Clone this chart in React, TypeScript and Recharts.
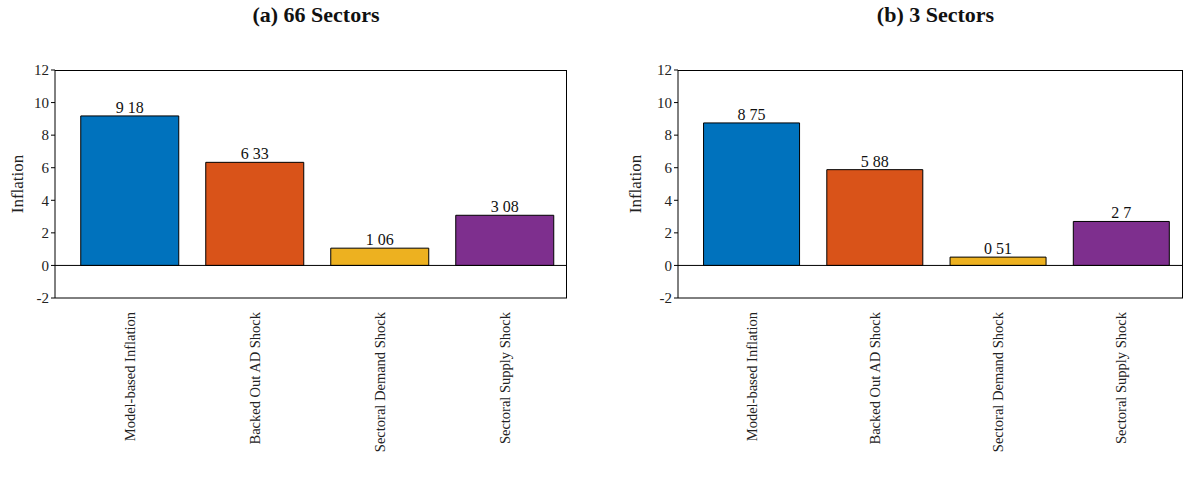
import { BarChart, Bar, XAxis, YAxis, Cell, LabelList, ReferenceLine } from 'recharts';

const categories = ['Model-based Inflation', 'Backed Out AD Shock', 'Sectoral Demand Shock', 'Sectoral Supply Shock'];
const values66 = [9.18, 6.33, 1.06, 3.08];
const values3 = [8.75, 5.88, 0.51, 2.7];
const yTicks = [-2, 0, 2, 4, 6, 8, 10, 12];
const colors = ['#0072BD', '#D95319', '#EDB120', '#7E2F8E'];

const font = '"Liberation Serif", "DejaVu Serif", serif';

const XTick = (props: any) => {
  const { x, y, payload } = props;
  return (
    <text x={x} y={y + 6} transform={`rotate(-90, ${x}, ${y + 6})`} textAnchor="end" dominantBaseline="central"
      fontSize={14.5} fontFamily={font} fill="#222">{payload.value}</text>
  );
};

function Panel({ title, values, left, width, marginLeft, labelX }: { title: string; values: number[]; left: number; width: number; marginLeft: number; labelX: number }) {
  const data = categories.map((name, i) => ({ name, value: values[i] }));
  const plotLeft = marginLeft + 25;
  return (
    <div style={{ position: 'absolute', left, top: 0, width, height: 491 }}>
      <BarChart width={width} height={491} data={data} barCategoryGap="11%"
        margin={{ top: 70, bottom: 0, left: marginLeft, right: 10 }}>
        <XAxis dataKey="name" interval={0} tick={<XTick />} tickLine={false} stroke="#000" height={193} padding={{ left: 12, right: 0 }} />
        <YAxis domain={[-2, 12]} ticks={yTicks} interval={0} width={25} stroke="#000" tickSize={4}
          tick={{ fontSize: 15, fontFamily: font, fill: '#222' }}
          label={{ value: 'Inflation', angle: -90, position: 'insideLeft', dx: labelX - marginLeft, style: { fontSize: 17, fontFamily: font, fill: '#222', textAnchor: 'middle' } }} />
        <ReferenceLine y={0} stroke="#000" />
        <Bar dataKey="value" stroke="#000" strokeWidth={1} isAnimationActive={false}>
          {data.map((d, i) => <Cell key={d.name} fill={colors[i]} />)}
          <LabelList dataKey="value" position="top" offset={3}
            formatter={(v: any) => String(v).replace('.', ' ')}
            style={{ fontSize: 16, fontFamily: font, fill: '#111' }} />
        </Bar>
      </BarChart>
      <div style={{ position: 'absolute', left: plotLeft, top: 70, width: width - 10 - plotLeft, height: 228, border: '1px solid #000', borderLeft: 'none', borderBottom: 'none', boxSizing: 'border-box', pointerEvents: 'none' }} />
      <div style={{ position: 'absolute', top: 2, left: 0, width, paddingLeft: plotLeft, boxSizing: 'border-box', textAlign: 'center', fontFamily: font, fontWeight: 'bold', fontSize: 22, color: '#111' }}>{title}</div>
    </div>
  );
}

export default function App() {
  return (
    <div style={{ position: 'fixed', left: 0, top: 0, width: 1193, height: 491, background: '#fff' }}>
      <Panel title="(a) 66 Sectors" values={values66} left={0} width={577} marginLeft={30} labelX={12} />
      <Panel title="(b) 3 Sectors" values={values3} left={600} width={593} marginLeft={53} labelX={30} />
    </div>
  );
}
